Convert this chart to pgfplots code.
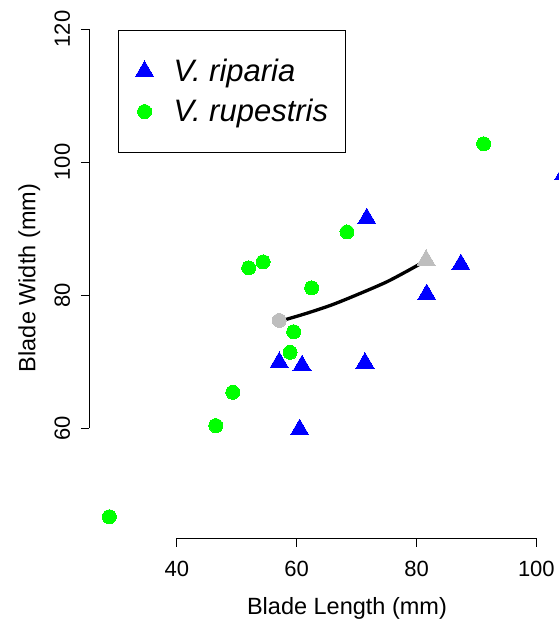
\documentclass[border=0pt]{standalone}
\usepackage{pgfplots}
\pgfplotsset{compat=1.18}
\usepackage{fontspec}
\setmainfont{Liberation Sans}
\definecolor{rblue}{RGB}{0,0,255}
\definecolor{rgreen}{RGB}{0,255,0}
\definecolor{rgray}{RGB}{190,190,190}
\begin{document}
\begin{tikzpicture}
\useasboundingbox (-89.3pt,-86.7pt) rectangle (469.7pt,538.3pt);
\clip (-89.3pt,-86.7pt) rectangle (469.7pt,538.3pt);
\begin{axis}[
  scale only axis, width=515.4pt, height=520.6pt,
  xmin=25.4, xmax=111.4, ymin=43.46, ymax=121.7,
  clip=false,
  axis line style={draw=none},
  xtick={40,60,80,100}, ytick={60,80,100,120},
  xtick pos=bottom, ytick pos=left,
  tick align=outside, major tick length=8.5pt,
  tick style={black, line width=0.8pt},
  /pgf/number format/assume math mode=true,
  xticklabel shift=14.5pt, yticklabel shift=10.5pt,
  xticklabel style={font=\fontsize{22}{26}\selectfont, anchor=north, inner sep=0pt},
  yticklabel style={font=\fontsize{22}{26}\selectfont, rotate=90, anchor=south, inner sep=0pt},
  xlabel={Blade Length (mm)}, ylabel={Blade Width (mm)},
  label style={font=\fontsize{23.5}{28}\selectfont},
  xlabel style={at={(axis description cs:0.5,-0.146)}, anchor=base},
  ylabel style={at={(axis description cs:-0.1048,0.5)}, anchor=base},
  legend image code/.code={\draw[mark repeat=2,mark phase=2,#1] plot coordinates {(0pt,0pt)(10pt,0pt)(20pt,0pt)};},
  legend cell align=left,
  legend style={at={(axis cs:30.2,119.9)}, anchor=north west, draw=black, line width=0.8pt, fill=white,
    inner xsep=17pt, inner ysep=27pt, row sep=11.7pt, column sep=20pt,
    font=\fontsize{31}{36}\selectfont\itshape,
    nodes={inner sep=0pt, text height=24.5pt, text depth=4pt}},
]
% gray end markers
\addplot[only marks, mark=*, mark size=7pt, mark options={draw=rgray, fill=rgray, line width=0pt}, forget plot]
  coordinates {(57.1,76.2)};
\addplot[only marks, mark=triangle*, mark size=10.5pt, mark options={draw=rgray, fill=rgray, line width=0pt}, forget plot]
  coordinates {(81.6,85.25)};
% curve
\addplot[black, line width=3.3pt, smooth, forget plot] coordinates {
  (57.25,76.1) (61.4,77.2) (65.9,78.55) (70.3,80.15) (74.8,81.9) (78.1,83.45) (81.3,85.05)};
% V. riparia
\addplot[only marks, mark=triangle*, mark size=10.5pt, mark options={draw=rblue, fill=rblue, line width=0pt}]
  coordinates {(71.7,91.5) (87.4,84.6) (81.7,80.1) (57.1,69.9) (60.9,69.4) (71.4,69.8) (60.5,59.8) (104.6,98.2)};
\addlegendentry{V. riparia}
% V. rupestris
\addplot[only marks, mark=*, mark size=7pt, mark options={draw=rgreen, fill=rgreen, line width=0pt}]
  coordinates {(91.2,102.75) (68.4,89.5) (54.4,85.0) (52.0,84.1) (62.5,81.1) (59.5,74.5) (58.9,71.4) (49.35,65.4) (46.5,60.4) (28.75,46.7)};
\addlegendentry{V. rupestris}
% axis lines (R style, spanning the tick range)
\draw[line width=0.8pt] (axis cs:40,43.46) -- (axis cs:100,43.46);
\draw[line width=0.8pt] (axis cs:25.4,60) -- (axis cs:25.4,120);
\end{axis}
\end{tikzpicture}
\end{document}
